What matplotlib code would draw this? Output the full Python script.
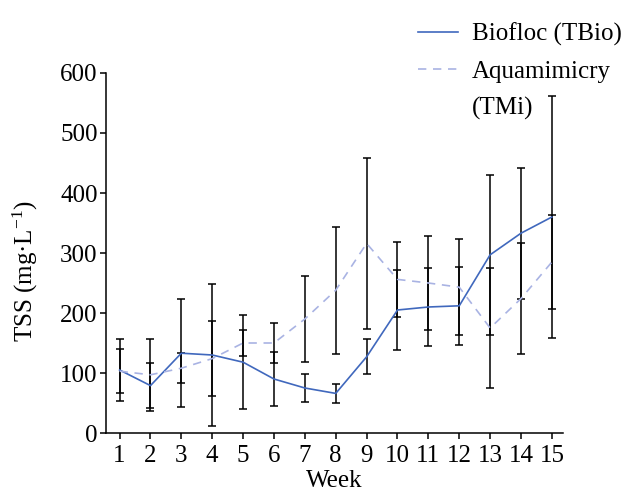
import matplotlib
matplotlib.use("Agg")
import matplotlib.pyplot as plt
from matplotlib.lines import Line2D
import numpy as np

plt.rcParams['font.family'] = ['Liberation Serif', 'DejaVu Serif']
plt.rcParams['mathtext.fontset'] = 'custom'
plt.rcParams['mathtext.rm'] = 'Liberation Serif'
plt.rcParams['mathtext.it'] = 'Liberation Serif:italic'

weeks = list(range(1, 16))
biofloc_mean = [105, 79, 133, 130, 118, 90, 75, 66, 127, 205, 210, 212, 297, 333, 360]
biofloc_sd = [52, 37, 90, 119, 78, 45, 24, 16, 29, 66, 65, 65, 133, 109, 202]
aqua_mean = [103, 97, 108, 124, 150, 150, 190, 238, 316, 256, 250, 243, 175, 224, 285]
aqua_sd = [37, 60, 25, 62, 22, 33, 71, 106, 142, 62, 78, 80, 100, 92, 79]
y_ticks = [0, 100, 200, 300, 400, 500, 600]

FS = 18

fig = plt.figure(figsize=(6.32, 4.91), dpi=100)
ax = fig.add_axes([106/632, 1-433/491, (563-106)/632, (433-73)/491])

ekw = dict(fmt='none', ecolor='black', elinewidth=1.1, capsize=2.8, capthick=1.1, zorder=2)
ax.errorbar(weeks, biofloc_mean, yerr=biofloc_sd, **ekw)
ax.errorbar(weeks, aqua_mean, yerr=aqua_sd, **ekw)

l1, = ax.plot(weeks, biofloc_mean, color='#4068bd', lw=1.2, zorder=3)
l2, = ax.plot(weeks, aqua_mean, color='#a9b3e3', lw=1.2, ls=(0, (5, 4)), zorder=3)

ax.set_xlim(0.56, 15.36)
ax.set_ylim(0, 600)
ax.set_xticks(weeks)
ax.set_yticks(y_ticks)
ax.tick_params(axis='both', labelsize=FS, width=1.1, length=4.5, color='black')
ax.tick_params(axis='x', pad=4)
ax.tick_params(axis='y', pad=1.5)
for s in ['top', 'right']:
    ax.spines[s].set_visible(False)
for s in ['left', 'bottom']:
    ax.spines[s].set_linewidth(1.1)

ax.set_xlabel('Week', fontsize=FS, labelpad=2.5)
ax.set_ylabel('TSS (mg·L$^{-1}$)', fontsize=FS)
ax.yaxis.set_label_coords(-0.145, 0.45)

blank = Line2D([], [], color='none')
leg = fig.legend([l1, l2, blank], ['Biofloc (TBio)', 'Aquamimicry', '(TMi)'],
                 loc='upper left', bbox_to_anchor=(418/632, 1-23/491), frameon=False,
                 fontsize=FS, handlelength=1.6, handletextpad=0.56, borderpad=0,
                 borderaxespad=0, labelspacing=0.55)

fig.savefig('out.png', dpi=100)
